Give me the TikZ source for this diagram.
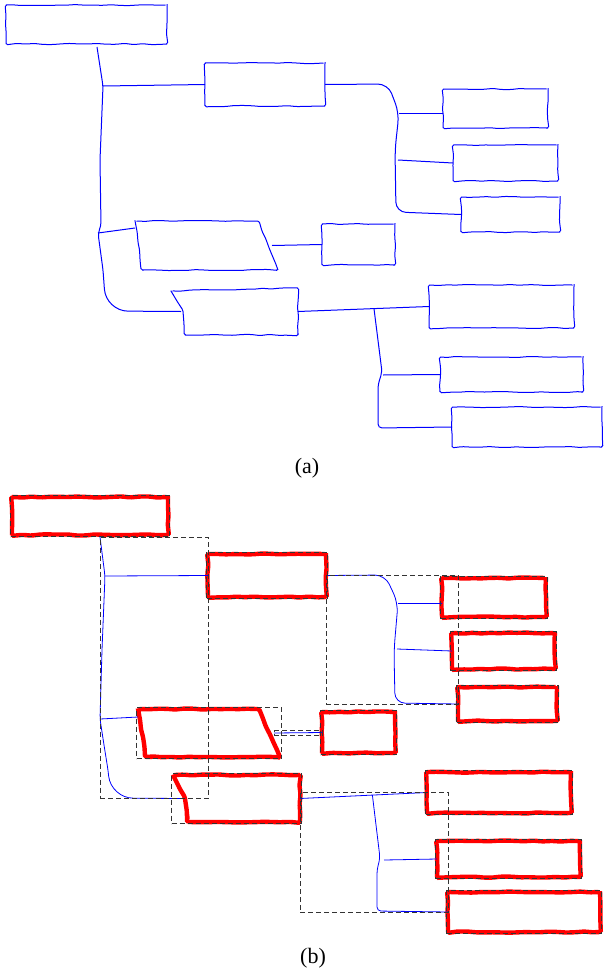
\documentclass[tikz,border=0pt]{standalone}
\usepackage{fontspec}
\setmainfont{Liberation Serif}
\usetikzlibrary{calc,fit,decorations.pathmorphing}

\begin{document}
\begin{tikzpicture}[x=1pt, y=-1pt,
    wobble/.style={decorate, decoration={random steps, segment length=9pt, amplitude=0.6pt}},
    boxsize/.style 2 args={minimum width=#1pt, minimum height=#2pt},
    ghost/.style={inner sep=0pt, outer sep=0pt, anchor=north west},
    sketchbox/.style={ghost, draw=blue, line width=1pt, wobble, rounded corners=1.5pt},
    hotbox/.style={ghost, draw=red, line width=4.4pt, wobble, rounded corners=1.5pt},
    sketchline/.style={draw=blue, line width=1pt, wobble, rounded corners=1.5pt},
    hotline/.style={draw=red, line width=4.4pt, wobble, rounded corners=1.5pt},
    link/.style={draw=blue, line width=1pt, rounded corners=4pt},
    thinlink/.style={draw=blue, line width=0.8pt, rounded corners=4pt},
    dashbox/.style={draw=black!80, dash pattern=on 5pt off 3pt, line width=0.9pt, inner sep=1.5pt},
    caption/.style={font=\fontsize{22}{26}\selectfont}]
    \pgfmathsetseed{7}
    \useasboundingbox (0,0) rectangle (603,974);

    % (a) the sketched tree
    % Boxes
    \node[sketchbox, boxsize={161}{39}] (a0) at (6,5) {};
    \node[sketchbox, boxsize={120}{43}] (a1) at (205,63) {};
    \node[ghost, boxsize={143}{49}] (a2) at (135,221) {};
    \draw[sketchline] (a2.north west) -- ($(a2.north east)+(-20,0)$) -- (a2.south east) -- ($(a2.south west)+(7,0)$) -- cycle;
    \node[sketchbox, boxsize={73}{41}] (a3) at (322,224) {};
    \node[ghost, boxsize={127}{47}] (a4) at (171,288) {};
    \draw[sketchline] ($(a4.north west)+(0,3)$) -- (a4.north east) -- (a4.south east) -- ($(a4.south west)+(14,0)$) -- ($(a4.west)+(12,0)$) -- cycle;
    \node[sketchbox, boxsize={105}{39}] (a11) at (443,89) {};
    \node[sketchbox, boxsize={105}{36}] (a12) at (453,145) {};
    \node[sketchbox, boxsize={99}{35}] (a13) at (461,197) {};
    \node[sketchbox, boxsize={145}{43}] (a41) at (429,285) {};
    \node[sketchbox, boxsize={143}{35}] (a42) at (440,357) {};
    \node[sketchbox, boxsize={150}{40}] (a43) at (452,407) {};

    % Junctions
    \coordinate (a0t) at ($(a0.south west)+(91,3)$);
    \coordinate (a1j) at (103,86);
    \coordinate (a2j) at (98,233);
    \coordinate (a2e) at ([xshift=-6pt]a2.east);
    \coordinate (a1t) at (399,113);
    \coordinate (a12j) at (398,160);
    \coordinate (a4t) at ($(a4.east)!0.58!(a41.west)$);
    \coordinate (a42j) at (383,375);

    % Connectors
    \draw[link] (a0t) -- (a1j) -- (100,160) -- (101,226) -- (a2j) -- (103,270) [rounded corners=22pt] -- (106,311) -- ([xshift=10pt]a4.west);
    \draw[link] (a1j) -- (a1.west);
    \draw[link] (a2j) -- ([yshift=-7pt]a2.north west);
    \draw[link, rounded corners=10pt] (a1.east) -- (388,84) -- (a1t) -- (395,150) -- (396,212) -- (a13.west);
    \draw[link] (a1t) -- (a11.west |- a1t);
    \draw[link] (a12j) -- (a12.west);
    \draw[link] (a2e) -- (a3.west);
    \draw[link] (a4.east) -- (a41.west);
    \draw[link] (a4t) -- (382,372) -- (378,385) -- (378,428) -- (a43.west);
    \draw[link] (a42j) -- (a42.west);

    \node[caption] (capa) at (307,468) {(a)};

    % (b) the same tree with its boxes found
    % Boxes
    \node[hotbox, boxsize={156}{38}] (b0) at (12,497) {};
    \node[hotbox, boxsize={118}{43}] (b1) at (208,554) {};
    \node[ghost, boxsize={142}{48}] (b2) at (138,709) {};
    \draw[hotline] (b2.north west) -- ($(b2.north east)+(-22,0)$) -- (b2.south east) -- ($(b2.south west)+(8,0)$) -- cycle;
    \node[hotbox, boxsize={73}{41}] (b3) at (322,712) {};
    \node[ghost, boxsize={127}{47}] (b4) at (173,775) {};
    \draw[hotline] (b4.north west) -- (b4.north east) -- (b4.south east) -- ($(b4.south west)+(15,0)$) -- ($(b4.west)+(12,0)$) -- cycle;
    \node[hotbox, boxsize={104}{39}] (b11) at (442,578) {};
    \node[hotbox, boxsize={103}{36}] (b12) at (452,633) {};
    \node[hotbox, boxsize={99}{34}] (b13) at (458,687) {};
    \node[hotbox, boxsize={144}{41}] (b41) at (427,772) {};
    \node[hotbox, boxsize={143}{36}] (b42) at (437,841) {};
    \node[hotbox, boxsize={152}{40}] (b43) at (448,892) {};

    % Junctions
    \coordinate (b0t) at ($(b0.south west)+(88,2)$);
    \coordinate (b1j) at (105,576);
    \coordinate (b2j) at (100,719);
    \coordinate (b2e) at ([xshift=-6pt]b2.east);
    \coordinate (b1t) at (398,603);
    \coordinate (b12j) at (397,649);
    \coordinate (b4t) at ($(b4.east)!0.57!(b41.west)$);
    \coordinate (b42j) at (384,860);

    % Connectors
    \draw[thinlink] (b0t) -- (b1j) -- (102,650) -- (b2j) -- (104,745) -- (108,770) [rounded corners=22pt] -- (111,798) -- ([xshift=10pt]b4.west);
    \draw[thinlink] (b1j) -- (b1.west);
    \draw[thinlink] (b2j) -- ([yshift=-8pt]b2.north west);
    \draw[thinlink, rounded corners=10pt] (b1.east) -- (385,575) -- (b1t) -- (394,650) -- (395,703) -- (b13.west);
    \draw[thinlink] (b1t) -- (b11.west |- b1t);
    \draw[thinlink] (b12j) -- (b12.west);
    \draw[thinlink] (b2e) -- (b3.west);
    \draw[thinlink] (b4.east) -- (b41.west);
    \draw[thinlink] (b4t) -- (380,858) -- (377,870) -- (377,911) -- (b43.west);
    \draw[thinlink] (b42j) -- (b42.west);

    % Dashed boxes round boxes and connectors
    \foreach \n in {b0,b1,b2,b3,b4,b11,b12,b13,b41,b42,b43}
        \node[dashbox, fit=(\n)] (\n f) {};
    \node[dashbox, inner sep=0pt, fit=(b0t) (b1.west) (b4.west)] (b0g) {};
    \node[dashbox, inner sep=0pt, fit=(b1.east) (b12.west) (b13.west)] (b1g) {};
    \node[dashbox, inner xsep=0pt, inner ysep=2pt, fit=(b2e) (b3.west)] (b2g) {};
    \node[dashbox, inner sep=0pt, fit=(b4.east) (b41.west) (b43.west)] (b4g) {};

    \node[caption] (capb) at (313,958) {(b)};
\end{tikzpicture}
\end{document}
